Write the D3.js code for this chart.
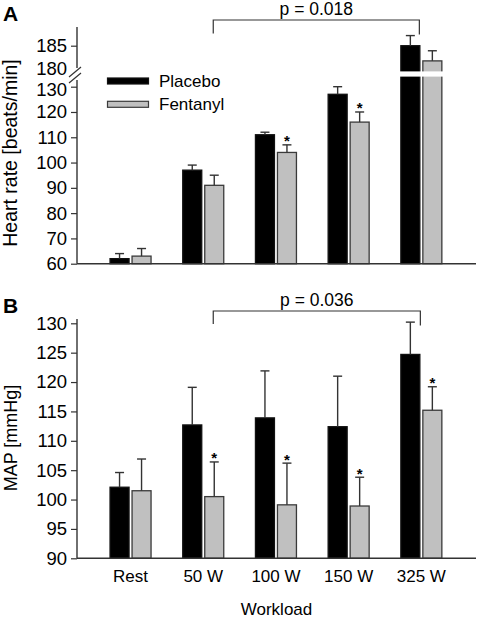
<!DOCTYPE html>
<html><head><meta charset="utf-8">
<script src="https://cdn.jsdelivr.net/npm/d3@7"></script>
<style>
body{margin:0;background:#fff;}
svg{display:block;font-family:"Liberation Sans",Arial,sans-serif;}
</style></head>
<body>
<svg id="chart" width="478" height="620"></svg>
<script>
const categories = ["Rest", "50 W", "100 W", "150 W", "325 W"];
const seriesNames = ["Placebo", "Fentanyl"];
const hrPlacebo = [62, 97, 111, 127, 185];
const hrPlaceboSD = [2, 2, 1, 3, 2];
const hrFentanyl = [63, 91, 104, 116, 182];
const hrFentanylSD = [3, 4, 3, 4, 2];
const hrFentanylSig = [false, false, true, true, false];
const mapPlacebo = [102.1, 112.7, 113.9, 112.4, 124.7];
const mapPlaceboSD = [2.5, 6.4, 8.0, 8.6, 5.5];
const mapFentanyl = [101.5, 100.5, 99.1, 98.9, 115.2];
const mapFentanylSD = [5.4, 5.9, 7.1, 4.9, 4.0];
const mapFentanylSig = [false, true, true, true, true];
const hrTicksLower = [60, 70, 80, 90, 100, 110, 120, 130];
const hrTicksUpper = [180, 185];
const mapTicks = [90, 95, 100, 105, 110, 115, 120, 125, 130];
const hrP = "p = 0.018";
const mapP = "p = 0.036";

const svg = d3.select("#chart");
const FS = 17, TFS = 18.5;
const axisX = 77, axisEnd = 476;
const dark = "#333";

const x = d3.scaleBand().domain(categories).range([94.2, 457.7]).padding(0);
const xs = d3.scaleBand().domain(seriesNames).range([-20.5, 20.5]).paddingInner(3/22);
const colors = {Placebo: "#000", Fentanyl: "#c0c0c0"};
const strokes = {Placebo: "#111", Fentanyl: "#3a3a3a"};
const cx = c => x(c) + x.bandwidth() / 2;

function buildRows(p, pSD, f, fSD, sig) {
  const rows = [];
  categories.forEach((c, i) => {
    rows.push({cat: c, s: "Placebo", v: p[i], sd: pSD[i], sig: false});
    rows.push({cat: c, s: "Fentanyl", v: f[i], sd: fSD[i], sig: sig[i]});
  });
  return rows;
}

function drawPanel(g, rows, yv, base) {
  g.selectAll("rect.bar").data(rows).join("rect").attr("class", "bar")
    .attr("x", d => cx(d.cat) + xs(d.s))
    .attr("width", xs.bandwidth())
    .attr("y", d => yv(d.v))
    .attr("height", d => base - yv(d.v))
    .attr("fill", d => colors[d.s])
    .attr("stroke", d => strokes[d.s]).attr("stroke-width", 1.3);
  const eb = g.selectAll("g.err").data(rows).join("g").attr("class", "err")
    .attr("stroke", dark).attr("stroke-width", 1.4);
  eb.append("line")
    .attr("x1", d => cx(d.cat) + xs(d.s) + xs.bandwidth()/2)
    .attr("x2", d => cx(d.cat) + xs(d.s) + xs.bandwidth()/2)
    .attr("y1", d => yv(d.v)).attr("y2", d => yv(d.v + d.sd));
  eb.append("line")
    .attr("x1", d => cx(d.cat) + xs(d.s) + xs.bandwidth()/2 - 4.5)
    .attr("x2", d => cx(d.cat) + xs(d.s) + xs.bandwidth()/2 + 4.5)
    .attr("y1", d => yv(d.v + d.sd)).attr("y2", d => yv(d.v + d.sd));
  g.selectAll("text.sig").data(rows.filter(d => d.sig)).join("text").attr("class", "sig")
    .attr("x", d => cx(d.cat) + xs(d.s) + xs.bandwidth()/2)
    .attr("y", d => yv(d.v + d.sd) + 1.5)
    .attr("text-anchor", "middle").attr("font-size", 15).attr("font-weight", "bold")
    .text("*");
}

function styleAxis(a, fs) {
  a.select(".domain").remove();
  a.selectAll(".tick line").attr("stroke", dark).attr("stroke-width", 1.2);
  a.selectAll(".tick text").attr("font-size", fs).attr("fill", "#000").attr("font-family", "Liberation Sans, Arial, sans-serif");
}

function bracket(g, c1, off1, c2, off2, yTop, yL1, yL2, label) {
  const x1 = cx(c1) + off1, x2 = cx(c2) + off2;
  g.append("path").attr("d", `M${x1},${yL1}V${yTop}H${x2}V${yL2}`)
    .attr("fill", "none").attr("stroke", dark).attr("stroke-width", 1.2);
  g.append("text").attr("x", (x1 + x2) / 2).attr("y", yTop - 5)
    .attr("text-anchor", "middle").attr("font-size", 17.5).text(label);
}

const fmt = d3.format("d");

// ---------- Panel A ----------
const yL = d3.scaleLinear().domain([60, 130]).range([263.7, 86.7]);
const yU = d3.scaleLinear().domain([180, 185]).range([71, 45.7]);
const yHR = v => v >= 180 ? yU(v) : yL(v);
const gA = svg.append("g");
const baseA = yL(60);

drawPanel(gA, buildRows(hrPlacebo, hrPlaceboSD, hrFentanyl, hrFentanylSD, hrFentanylSig), yHR, baseA);
const tall = categories.filter((c, i) => hrPlacebo[i] >= 180);
tall.forEach(c => {
  gA.append("rect").attr("x", cx(c) - 22).attr("width", 44)
    .attr("y", yU(180) + 0.4).attr("height", 5.2).attr("fill", "#fff");
});

const axLower = gA.append("g").attr("transform", `translate(${axisX},0)`)
  .call(d3.axisLeft(yL).tickValues(hrTicksLower).tickFormat(fmt).tickSize(6).tickPadding(4));
styleAxis(axLower, TFS);
const axUpper = gA.append("g").attr("transform", `translate(${axisX},0)`)
  .call(d3.axisLeft(yU).tickValues(hrTicksUpper).tickFormat(fmt).tickSize(6).tickPadding(4));
styleAxis(axUpper, TFS);
axUpper.selectAll(".tick").filter(d => d === 180).select("line").remove();
axUpper.selectAll(".tick").filter(d => d === 180).select("text").attr("dy", "0.2em");
axLower.selectAll(".tick").filter(d => d === 130).select("text").attr("dy", "0.45em");

gA.append("line").attr("x1", axisX).attr("x2", axisX).attr("y1", 27).attr("y2", 68)
  .attr("stroke", dark).attr("stroke-width", 1.4);
gA.append("line").attr("x1", axisX).attr("x2", axisX).attr("y1", 80).attr("y2", baseA)
  .attr("stroke", dark).attr("stroke-width", 1.4);
[[69, 77, 81, 67], [69, 83, 81, 73]].forEach(p => {
  gA.append("line").attr("x1", p[0]).attr("y1", p[1]).attr("x2", p[2]).attr("y2", p[3])
    .attr("stroke", dark).attr("stroke-width", 1.2);
});
gA.append("line").attr("x1", axisX).attr("x2", axisEnd).attr("y1", baseA).attr("y2", baseA)
  .attr("stroke", dark).attr("stroke-width", 1.4);

bracket(gA, "50 W", 10, "325 W", -2, 20, 33.5, 34.5, hrP);

gA.append("text").attr("transform", "translate(17,153) rotate(-90)")
  .attr("text-anchor", "middle").attr("font-size", 19.5).text("Heart rate [beats/min]");
gA.append("text").attr("x", 3).attr("y", 21).attr("font-size", 21).attr("font-weight", "bold").text("A");

const leg = gA.append("g");
seriesNames.forEach((s, i) => {
  leg.append("rect").attr("x", 107.5).attr("y", 78 + i * 23.3).attr("width", 41).attr("height", 6)
    .attr("fill", colors[s]).attr("stroke", strokes[s]).attr("stroke-width", 1.2);
  leg.append("text").attr("x", 159).attr("y", 87 + i * 23.3).attr("font-size", FS).text(s);
});

// ---------- Panel B ----------
const yB = d3.scaleLinear().domain([90, 130]).range([558.3, 323.3]);
const gB = svg.append("g");
const baseB = yB(90);
drawPanel(gB, buildRows(mapPlacebo, mapPlaceboSD, mapFentanyl, mapFentanylSD, mapFentanylSig), yB, baseB);
const axB = gB.append("g").attr("transform", `translate(${axisX},0)`)
  .call(d3.axisLeft(yB).tickValues(mapTicks).tickFormat(fmt).tickSize(6).tickPadding(4));
styleAxis(axB, TFS);
gB.append("line").attr("x1", axisX).attr("x2", axisX).attr("y1", 319).attr("y2", baseB)
  .attr("stroke", dark).attr("stroke-width", 1.4);
const axBx = gB.append("g").attr("transform", `translate(0,${baseB})`)
  .call(d3.axisBottom(x).tickSize(0).tickPadding(12));
styleAxis(axBx, FS);
gB.append("line").attr("x1", axisX).attr("x2", axisEnd).attr("y1", baseB).attr("y2", baseB)
  .attr("stroke", dark).attr("stroke-width", 1.4);

bracket(gB, "50 W", 10, "325 W", -1, 311, 324, 325.5, mapP);

gB.append("text").attr("transform", "translate(17,438) rotate(-90)")
  .attr("text-anchor", "middle").attr("font-size", 18).text("MAP [mmHg]");
gB.append("text").attr("x", 3).attr("y", 313).attr("font-size", 21).attr("font-weight", "bold").text("B");
gB.append("text").attr("x", (axisX + axisEnd) / 2).attr("y", 615)
  .attr("text-anchor", "middle").attr("font-size", FS).text("Workload");
</script>
</body></html>
